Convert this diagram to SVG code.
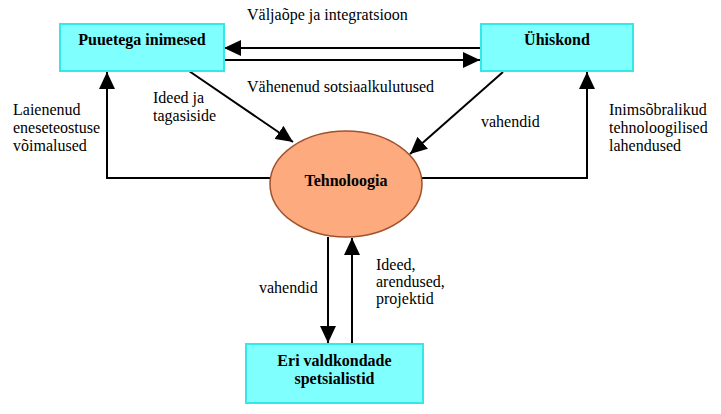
<svg xmlns="http://www.w3.org/2000/svg" width="721" height="414" viewBox="0 0 721 414" font-family="'Liberation Serif', 'Times New Roman', serif">
<style>
text{font-family:'Liberation Serif','Times New Roman',serif;font-size:16px;fill:#000}
.b{font-weight:bold}
.box{fill:#80FFFF;stroke:#33E8E8;stroke-width:2}
.ell{fill:#FCAA7E;stroke:#A0522D;stroke-width:1.5}
.c{fill:none;stroke:#000;stroke-width:2}
</style>
<defs>
<marker id="ah" viewBox="0 0 17 16" refX="17" refY="8" markerWidth="17" markerHeight="16" markerUnits="userSpaceOnUse" orient="auto">
<path d="M0,0 L17,8 L0,16 z" fill="#000"/>
</marker>
</defs>
<rect width="721" height="414" fill="#fff"/>
<g id="connectors">
<path class="c" d="M480,48 H224" marker-end="url(#ah)"/>
<path class="c" d="M224,60 H480" marker-end="url(#ah)"/>
<path class="c" d="M189,71 L293,142" marker-end="url(#ah)"/>
<path class="c" d="M503,72 L410,154" marker-end="url(#ah)"/>
<path class="c" d="M270,178 H107 V72" marker-end="url(#ah)"/>
<path class="c" d="M422,178 H587 V72" marker-end="url(#ah)"/>
<path class="c" d="M328,237 V343" marker-end="url(#ah)"/>
<path class="c" d="M352,344 V238" marker-end="url(#ah)"/>
<text x="247" y="20">Väljaõpe ja integratsioon</text>
<text x="247" y="92">Vähenenud sotsiaalkulutused</text>
<text x="153" y="103">Ideed ja</text>
<text x="153" y="121">tagasiside</text>
<text x="13" y="115">Laienenud</text>
<text x="13" y="133">eneseteostuse</text>
<text x="13" y="151">võimalused</text>
<text x="481" y="127">vahendid</text>
<text x="609" y="115">Inimsõbralikud</text>
<text x="609" y="133">tehnoloogilised</text>
<text x="609" y="151">lahendused</text>
<text x="259" y="293">vahendid</text>
<text x="376" y="270">Ideed,</text>
<text x="376" y="287">arendused,</text>
<text x="376" y="304">projektid</text>
</g>
<g id="puuetega">
<rect class="box" x="60" y="24" width="164" height="47"/>
<text class="b" x="142" y="45" text-anchor="middle">Puuetega inimesed</text>
</g>
<g id="yhiskond">
<rect class="box" x="481" y="24" width="152" height="47"/>
<text class="b" x="557" y="45" text-anchor="middle">Ühiskond</text>
</g>
<g id="tehnoloogia">
<ellipse class="ell" cx="346" cy="184" rx="76" ry="53"/>
<text class="b" x="346" y="186" text-anchor="middle">Tehnoloogia</text>
</g>
<g id="spetsialistid">
<rect class="box" x="246" y="344" width="177" height="59"/>
<text class="b" x="334.5" y="366" text-anchor="middle">Eri valdkondade</text>
<text class="b" x="334.5" y="384" text-anchor="middle">spetsialistid</text>
</g>
</svg>
